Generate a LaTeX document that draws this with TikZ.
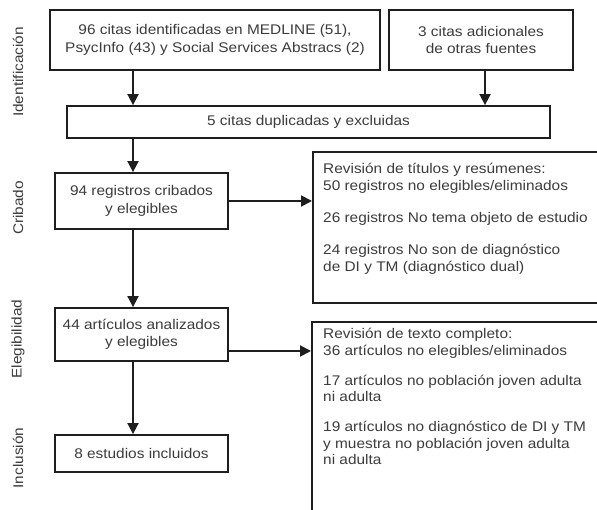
\documentclass[tikz,border=0pt]{standalone}
\usepackage{fontspec}
\setmainfont{Liberation Sans}[FakeStretch=1.1]
\usetikzlibrary{arrows.meta}
\definecolor{txt}{HTML}{3C3C3C}
\definecolor{ln}{HTML}{1E1E1E}
\newcommand{\fs}{\fontsize{14}{17.5}\selectfont}
\begin{document}
\begin{tikzpicture}[x=1pt,y=-1pt,
  box/.style={draw=ln,line width=1.8pt,inner sep=0pt,align=center,text=txt,font=\fs},
  lbl/.style={inner sep=0pt,text=txt,font=\fontsize{14}{17}\selectfont,rotate=90},
  ltext/.style={inner sep=0pt,anchor=north west,align=left,text=txt},
  arr/.style={draw=ln,line width=1.8pt,-{Triangle[length=11pt,width=11pt]}}]
\clip (0,0) rectangle (597,510);
\fill[white] (0,0) rectangle (597,510);
% side labels
\node[lbl] (lid) at (18,72) {Identificación};
\node[lbl] (lcr) at (18,208) {Cribado};
\node[lbl] (lel) at (18,339) {Elegibilidad};
\node[lbl] (lin) at (18,458) {Inclusión};
% boxes
\node[box,minimum width=330pt,minimum height=60pt] (b1) at (215,40)
  {96 citas identificadas en MEDLINE (51),\\PsycInfo (43) y Social Services Abstracs (2)};
\node[box,minimum width=184pt,minimum height=60pt] (b2) at (481,40)
  {3 citas adicionales\\de otras fuentes};
\node[box,minimum width=483pt,minimum height=32pt] (dup) at (308.5,122)
  {5 citas duplicadas y excluidas};
\node[box,minimum width=173pt,minimum height=56pt] (crib) at (141.5,201)
  {94 registros cribados\\y elegibles};
\node[box,minimum width=173pt,minimum height=53pt] (elig) at (141.5,334.5)
  {44 artículos analizados\\y elegibles};
\node[box,minimum width=173pt,minimum height=37pt] (incl) at (141.5,453.5)
  {8 estudios incluidos};
\node[box,anchor=north west,minimum width=300pt,minimum height=151pt] (r1) at (312,151) {};
\node[box,anchor=north west,minimum width=300pt,minimum height=220pt] (r2) at (311,321) {};
\node[ltext,font=\fontsize{14}{17}\selectfont] (r1t) at (323,161.6)
  {\strut Revisión de títulos y resúmenes:\\
   50 registros no elegibles/eliminados\\[15pt]
   26 registros No tema objeto de estudio\\[15pt]
   24 registros No son de diagnóstico\\
   de DI y TM (diagnóstico dual)};
\node[ltext,font=\fontsize{14}{16.5}\selectfont] (r2t) at (323,326.9)
  {\strut Revisión de texto completo:\\
   36 artículos no elegibles/eliminados\\[13.5pt]
   17 artículos no población joven adulta\\
   ni adulta\\[13.5pt]
   19 artículos no diagnóstico de DI y TM\\
   y muestra no población joven adulta\\
   ni adulta};
% connector guide coordinates
\coordinate (vx) at (133,0);
\coordinate (vx2) at (485,0);
\coordinate (hy2) at (0,351);
% connectors
\draw[arr] (b1.south -| vx) -- (dup.north -| vx);
\draw[arr] (b2.south -| vx2) -- (dup.north -| vx2);
\draw[arr] (dup.south -| vx) -- (crib.north -| vx);
\draw[arr] (crib.south -| vx) -- (elig.north -| vx);
\draw[arr] (elig.south -| vx) -- (incl.north -| vx);
\draw[arr] (crib.east) -- (crib.east -| r1.west);
\draw[arr] (elig.east |- hy2) -- (r2.west |- hy2);
\end{tikzpicture}
\end{document}
